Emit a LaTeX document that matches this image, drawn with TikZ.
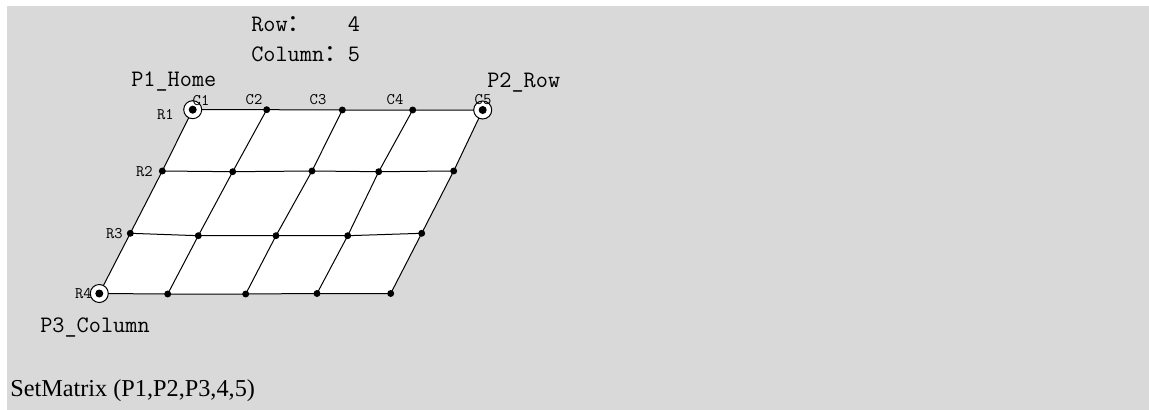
\documentclass[tikz,border=0pt]{standalone}
\usepackage{fontspec}
\newfontfamily\cjk{Noto Sans CJK SC}
\newfontfamily\serifb{Liberation Serif}
\definecolor{bg}{HTML}{D9D9D9}
\tikzset{
  big/.style={font=\ttfamily\fontsize{17.7}{20}\selectfont, inner sep=0pt, text=black},
  small/.style={font=\ttfamily\fontsize{12.1}{14}\selectfont, inner sep=0pt, text=black},
  caption/.style={font=\serifb\fontsize{18.2}{21}\selectfont, inner sep=0pt, text=black},
  dot/.style={circle, fill=black, inner sep=0pt, minimum size=5.2pt},
  bigdot/.style={circle, fill=black, inner sep=0pt, minimum size=6pt},
  ring/.style={circle, draw=black, fill=white, line width=0.75pt, inner sep=0pt, minimum size=13.5pt},
  gridline/.style={draw=black, line width=0.75pt}
}
\begin{document}
\begin{tikzpicture}[x=0.75pt, y=-0.75pt]
\useasboundingbox (0,0) rectangle (1149,410);
\fill[white] (0,0) rectangle (1149,410);
\fill[bg] (7,6) rectangle (1149,410);
% grid points
\coordinate (p11) at (192.7,109.7);
\coordinate (p12) at (266.7,109.7);
\coordinate (p13) at (342.3,110);
\coordinate (p14) at (412.7,110);
\coordinate (p15) at (482.7,110);
\coordinate (p21) at (162.3,171);
\coordinate (p22) at (232.7,171.7);
\coordinate (p23) at (312,171);
\coordinate (p24) at (378.7,171.7);
\coordinate (p25) at (453.7,171);
\coordinate (p31) at (130.3,233.3);
\coordinate (p32) at (198.3,235.7);
\coordinate (p33) at (276,235.7);
\coordinate (p34) at (347.7,235.7);
\coordinate (p35) at (421.7,233.3);
\coordinate (p41) at (99.3,293.5);
\coordinate (p42) at (167.7,294);
\coordinate (p43) at (245.7,294);
\coordinate (p44) at (317,293.5);
\coordinate (p45) at (390.7,293.5);
% white area
\fill[white] (p11) -- (p12) -- (p13) -- (p14) -- (p15) -- (p25) -- (p35) -- (p45)
  -- (p44) -- (p43) -- (p42) -- (p41) -- (p31) -- (p21) -- cycle;
% rows
\foreach \r in {1,2,3,4} {
  \draw[gridline] (p\r1) -- (p\r2) -- (p\r3) -- (p\r4) -- (p\r5);
}
% columns
\foreach \c in {1,2,3,4,5} {
  \draw[gridline] (p1\c) -- (p2\c) -- (p3\c) -- (p4\c);
}
% rings
\node[ring] (ring1) at (p11) {};
\node[ring] (ring2) at (p15) {};
\node[ring] (ring3) at (p41) {};
% dots
\foreach \r in {1,2,3,4} {
  \foreach \c in {1,2,3,4,5} {
    \node[dot] (d\r\c) at (p\r\c) {};
  }
}
\node[bigdot] (bd1) at (p11) {};
\node[bigdot] (bd2) at (p15) {};
\node[bigdot] (bd3) at (p41) {};
% labels
\node[small, anchor=base] (lc1) at (201,105) {C1};
\node[small, anchor=base] (lc2) at (254,104) {C2};
\node[small, anchor=base] (lc3) at (318,104) {C3};
\node[small, anchor=base] (lc4) at (395,104) {C4};
\node[small, anchor=base] (lc5) at (483,104) {C5};
\node[small, anchor=base east] (lr1) at (174,119) {R1};
\node[small, anchor=base east] (lr2) at (153,176) {R2};
\node[small, anchor=base east] (lr3) at (123,238) {R3};
\node[small, anchor=base east] (lr4) at (92,298) {R4};
\node[big, anchor=base west] (t1) at (251,32) {Row{\cjk ：}~~~4};
\node[big, anchor=base west] (t2) at (251,62) {Column{\cjk ：}5};
\node[big, anchor=base west] (pa) at (131,87) {P1\_Home};
\node[big, anchor=base west] (pb) at (487,88) {P2\_Row};
\node[big, anchor=base west] (pc) at (40,332) {P3\_Column};
\node[caption, anchor=base west] (cap) at (10,396) {SetMatrix (P1,P2,P3,4,5)};
\end{tikzpicture}
\end{document}
